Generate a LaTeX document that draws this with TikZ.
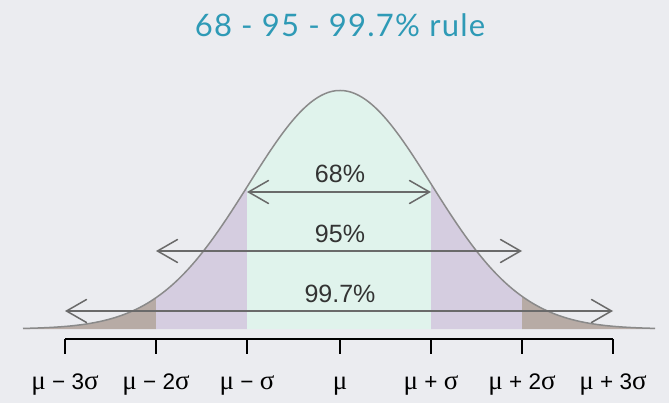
\documentclass[tikz,border=0pt]{standalone}
\usepackage{fontspec}
\setmainfont{Liberation Sans}
\newfontfamily\titlefont[LetterSpace=4]{Lato}
\newfontfamily\greekfont[Scale=1.2]{Liberation Serif}
\usetikzlibrary{arrows.meta}

\definecolor{bgcol}{HTML}{EBECF0}
\definecolor{titleblue}{HTML}{2E9AB6}
\definecolor{mint}{HTML}{E0F3EC}
\definecolor{lavender}{HTML}{D5CDE0}
\definecolor{taupe}{HTML}{B7ABA5}
\definecolor{curvegray}{HTML}{8A8A8A}
\definecolor{arrowgray}{HTML}{6A6A6A}
\definecolor{textgray}{HTML}{333333}

\newcommand{\gmu}{{\greekfont μ}}
\newcommand{\gsig}{{\greekfont σ}}

\tikzset{
  declare function={bell(\x)=329-238.5*exp(-((\x-340)/91.3)^2/2);},
  rulearrow/.style={draw=arrowgray, line width=1.5pt, line cap=round,
    {Straight Barb[length=20pt,width=23pt,line cap=round]}-{Straight Barb[length=20pt,width=23pt,line cap=round]}},
  pct/.style={text=textgray, font=\fontsize{25}{29}\selectfont, inner sep=0pt},
  ticklabel/.style={text=black, font=\fontsize{22.5}{26}\selectfont, inner sep=0pt, anchor=base},
  axis/.style={draw=black, line width=1.5pt}
}

\begin{document}
\begin{tikzpicture}[x=1pt, y=-1pt]
\useasboundingbox (0,0) rectangle (669,403);
\fill[bgcol] (0,0) rectangle (669,403);

\node[text=titleblue, font=\titlefont\fontsize{31}{36}\selectfont, inner sep=0pt] (title) at (340,25) {68 - 95 - 99.7\% rule};

% shaded bands under the curve
\fill[taupe] (23,329) -- plot[domain=23:156, samples=60] (\x,{bell(\x)}) -- (156,329) -- cycle;
\fill[lavender] (156,329) -- plot[domain=156:247, samples=40] (\x,{bell(\x)}) -- (247,329) -- cycle;
\fill[mint] (247,329) -- plot[domain=247:431, samples=80] (\x,{bell(\x)}) -- (431,329) -- cycle;
\fill[lavender] (431,329) -- plot[domain=431:522, samples=40] (\x,{bell(\x)}) -- (522,329) -- cycle;
\fill[taupe] (522,329) -- plot[domain=522:655, samples=60] (\x,{bell(\x)}) -- (655,329) -- cycle;

\draw[curvegray, line width=1.5pt] plot[domain=23:655, samples=250, smooth] (\x,{bell(\x)});

% arrows and percentages
\coordinate (a68l) at (247,192);
\coordinate (a68r) at (431,192);
\coordinate (a95l) at (156,251);
\coordinate (a95r) at (522,251);
\coordinate (a99l) at (65,311);
\coordinate (a99r) at (613,311);
\draw[rulearrow] (a68l) -- (a68r);
\draw[rulearrow] (a95l) -- (a95r);
\draw[rulearrow] (a99l) -- (a99r);
\node[pct] (p68) at (340,174) {68\%};
\node[pct] (p95) at (340,234) {95\%};
\node[pct] (p99) at (340,294) {99.7\%};

% axis with ticks
\coordinate (t1) at (65,339);
\coordinate (t2) at (156,339);
\coordinate (t3) at (247,339);
\coordinate (t4) at (340,339);
\coordinate (t5) at (431,339);
\coordinate (t6) at (522,339);
\coordinate (t7) at (613,339);
\draw[axis] (t1) -- (t7);
\foreach \t in {t1,t2,t3,t4,t5,t6,t7}
  \draw[axis] (\t) -- ++(0,15);

\node[ticklabel] (m3) at (65,389) {\gmu{} − 3\gsig};
\node[ticklabel] (m2) at (156,389) {\gmu{} − 2\gsig};
\node[ticklabel] (m1) at (247,389) {\gmu{} − \gsig};
\node[ticklabel] (m0) at (340,389) {\gmu};
\node[ticklabel] (p1) at (431,389) {\gmu{} + \gsig};
\node[ticklabel] (p2) at (522,389) {\gmu{} + 2\gsig};
\node[ticklabel] (p3) at (613,389) {\gmu{} + 3\gsig};
\end{tikzpicture}
\end{document}
